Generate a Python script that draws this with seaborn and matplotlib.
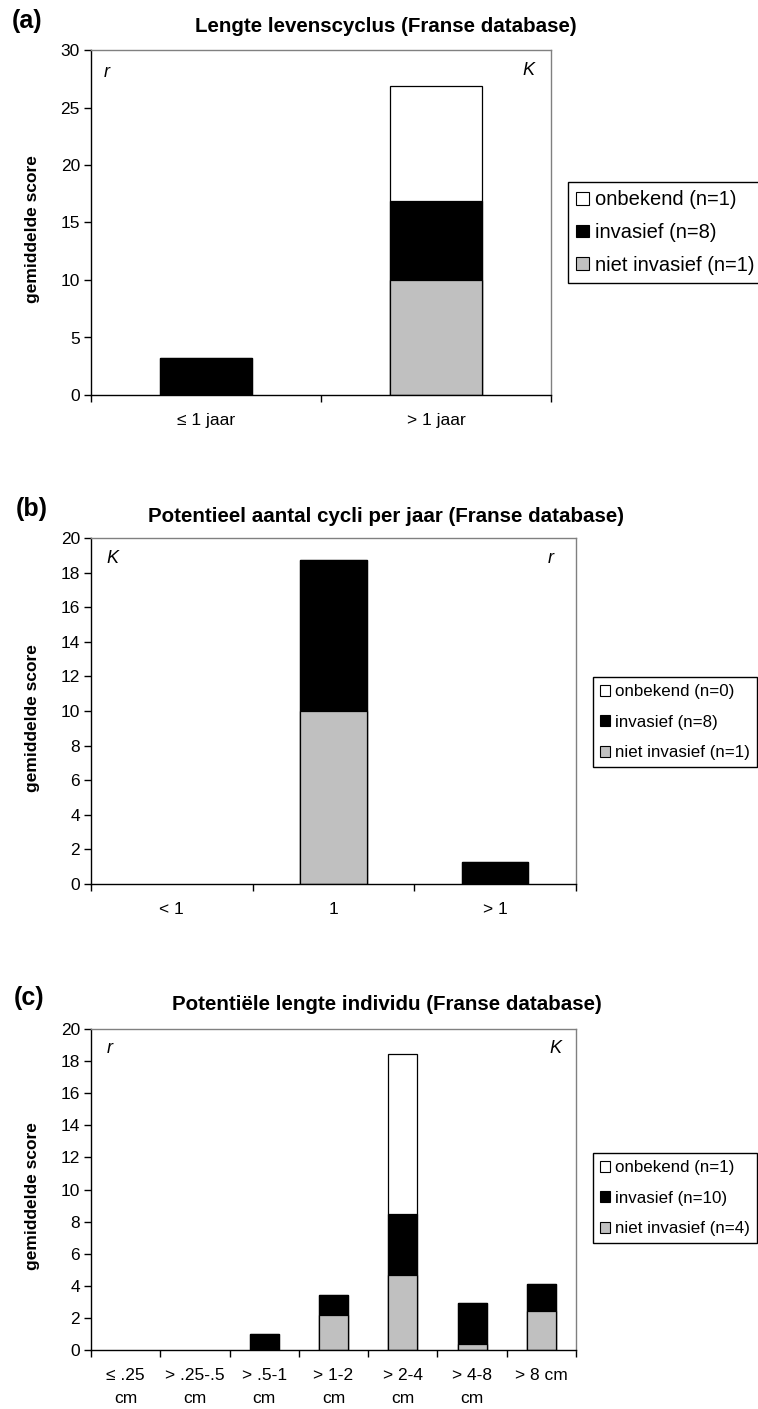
import numpy as np
import matplotlib
matplotlib.use("Agg")
import matplotlib.pyplot as plt
import seaborn as sns
from matplotlib.patches import Patch

sns.set_theme(style="ticks")
plt.rcParams.update({
    'font.family': ['Liberation Sans', 'DejaVu Sans'],
    'text.color': 'black',
    'axes.labelcolor': 'black',
    'xtick.color': 'black',
    'ytick.color': 'black',
    'axes.grid': False,
})

# (a) Lengte levenscyclus
a_cats = ['≤ 1 jaar', '> 1 jaar']
a_niet = [0.0, 10.0]
a_inv = [3.2, 6.9]
a_onb = [0.0, 10.0]
a_legend = ['onbekend (n=1)', 'invasief (n=8)', 'niet invasief (n=1)']

# (b) Potentieel aantal cycli per jaar
b_cats = ['< 1', '1', '> 1']
b_niet = [0.0, 10.0, 0.0]
b_inv = [0.0, 8.75, 1.3]
b_onb = [0.0, 0.0, 0.0]
b_legend = ['onbekend (n=0)', 'invasief (n=8)', 'niet invasief (n=1)']

# (c) Potentiele lengte individu
c_cats = ['≤ .25\ncm', '> .25-.5\ncm', '> .5-1\ncm', '> 1-2\ncm',
          '> 2-4\ncm', '> 4-8\ncm', '> 8 cm']
c_niet = [0.0, 0.0, 0.0, 2.2, 4.65, 0.4, 2.4]
c_inv = [0.0, 0.0, 1.0, 1.25, 3.8, 2.55, 1.7]
c_onb = [0.0, 0.0, 0.0, 0.0, 10.0, 0.0, 0.0]
c_legend = ['onbekend (n=1)', 'invasief (n=10)', 'niet invasief (n=4)']

GRAY = '#C0C0C0'
W, H = 758, 1409

fig = plt.figure(figsize=(W / 100, H / 100), dpi=100)


def px_axes(left, right, top, bottom):
    return fig.add_axes([left / W, 1 - bottom / H, (right - left) / W, (bottom - top) / H])


def draw_panel(ax, cats, niet, inv, onb, ymax, ystep, width):
    niet = np.array(niet)
    inv = np.array(inv)
    onb = np.array(onb)
    # stacked look: draw cumulative totals from the top layer down
    layers = [(niet + inv + onb, 'white'), (niet + inv, 'black'), (niet, GRAY)]
    for vals, col in layers:
        sns.barplot(x=cats, y=list(vals), order=cats, color=col, saturation=1,
                    edgecolor='black', linewidth=0.9, width=width, ax=ax)
    for p in ax.patches:
        if p.get_height() == 0:
            p.set_visible(False)
    n = len(cats)
    ax.set_xlim(-0.5, n - 0.5)
    ax.set_ylim(0, ymax)
    ax.set_yticks(np.arange(0, ymax + 0.01, ystep))
    ax.set_xticks(np.arange(-0.5, n, 1.0), minor=True)
    for t in ax.get_xticklabels():
        t.set_linespacing(1.65)
    ax.tick_params(axis='x', which='major', length=0, pad=13, labelsize=12.5)
    ax.tick_params(axis='x', which='minor', length=5, width=1, direction='out')
    ax.tick_params(axis='y', length=5, width=1, direction='out', pad=3, labelsize=12.5)
    ax.set_xlabel('')
    ax.set_ylabel('gemiddelde score', fontsize=12.5, fontweight='bold')
    for s in ['left', 'bottom']:
        ax.spines[s].set_color('black')
        ax.spines[s].set_linewidth(1)
    for s in ['top', 'right']:
        ax.spines[s].set_visible(True)
        ax.spines[s].set_color('#808080')
        ax.spines[s].set_linewidth(1)


def add_legend(labels, x, y, size, spacing):
    handles = [Patch(facecolor=c, edgecolor='black', linewidth=0.8, label=l)
               for c, l in zip(['white', 'black', GRAY], labels)]
    fig.legend(handles=handles, loc='upper left', bbox_to_anchor=(x / W, 1 - y / H),
               bbox_transform=fig.transFigure, fontsize=size, frameon=True,
               fancybox=False, edgecolor='black', framealpha=1,
               handlelength=0.6, handleheight=0.6, handletextpad=0.3,
               labelspacing=spacing, borderpad=0.42, borderaxespad=0)


# ----- panel (a) -----
ax_a = px_axes(91, 551, 50, 395)
draw_panel(ax_a, a_cats, a_niet, a_inv, a_onb, 30, 5, 0.4)
ax_a.yaxis.set_label_coords(-0.111, 0.48)
ax_a.text(0.035, 0.936, 'r', transform=ax_a.transAxes, fontsize=13, style='italic', ha='center', va='center')
ax_a.text(0.95, 0.94, 'K', transform=ax_a.transAxes, fontsize=13, style='italic', ha='center', va='center')
fig.text(386 / W, 1 - 26 / H, 'Lengte levenscyclus (Franse database)', fontsize=14.8,
         fontweight='bold', ha='center', va='center')
fig.text(12 / W, 1 - 21 / H, '(a)', fontsize=18, fontweight='bold', ha='left', va='center')
add_legend(a_legend, 568, 182, 14.5, 0.68)

# ----- panel (b) -----
ax_b = px_axes(91, 576, 538, 884)
draw_panel(ax_b, b_cats, b_niet, b_inv, b_onb, 20, 2, 0.41)
ax_b.yaxis.set_label_coords(-0.105, 0.48)
ax_b.text(0.045, 0.941, 'K', transform=ax_b.transAxes, fontsize=13, style='italic', ha='center', va='center')
ax_b.text(0.948, 0.941, 'r', transform=ax_b.transAxes, fontsize=13, style='italic', ha='center', va='center')
fig.text(386 / W, 1 - 517 / H, 'Potentieel aantal cycli per jaar (Franse database)', fontsize=14.8,
         fontweight='bold', ha='center', va='center')
fig.text(16 / W, 1 - 509 / H, '(b)', fontsize=18, fontweight='bold', ha='left', va='center')
add_legend(b_legend, 593, 677, 12.2, 0.92)

# ----- panel (c) -----
ax_c = px_axes(91, 576, 1029, 1350)
draw_panel(ax_c, c_cats, c_niet, c_inv, c_onb, 20, 2, 0.42)
ax_c.yaxis.set_label_coords(-0.105, 0.48)
ax_c.text(0.039, 0.94, 'r', transform=ax_c.transAxes, fontsize=13, style='italic', ha='center', va='center')
ax_c.text(0.957, 0.94, 'K', transform=ax_c.transAxes, fontsize=13, style='italic', ha='center', va='center')
fig.text(387 / W, 1 - 1005 / H, 'Potentiële lengte individu (Franse database)', fontsize=14.8,
         fontweight='bold', ha='center', va='center')
fig.text(14 / W, 1 - 998 / H, '(c)', fontsize=18, fontweight='bold', ha='left', va='center')
add_legend(c_legend, 593, 1153, 12.2, 0.92)

fig.savefig('out.png', dpi=100, facecolor='white')
